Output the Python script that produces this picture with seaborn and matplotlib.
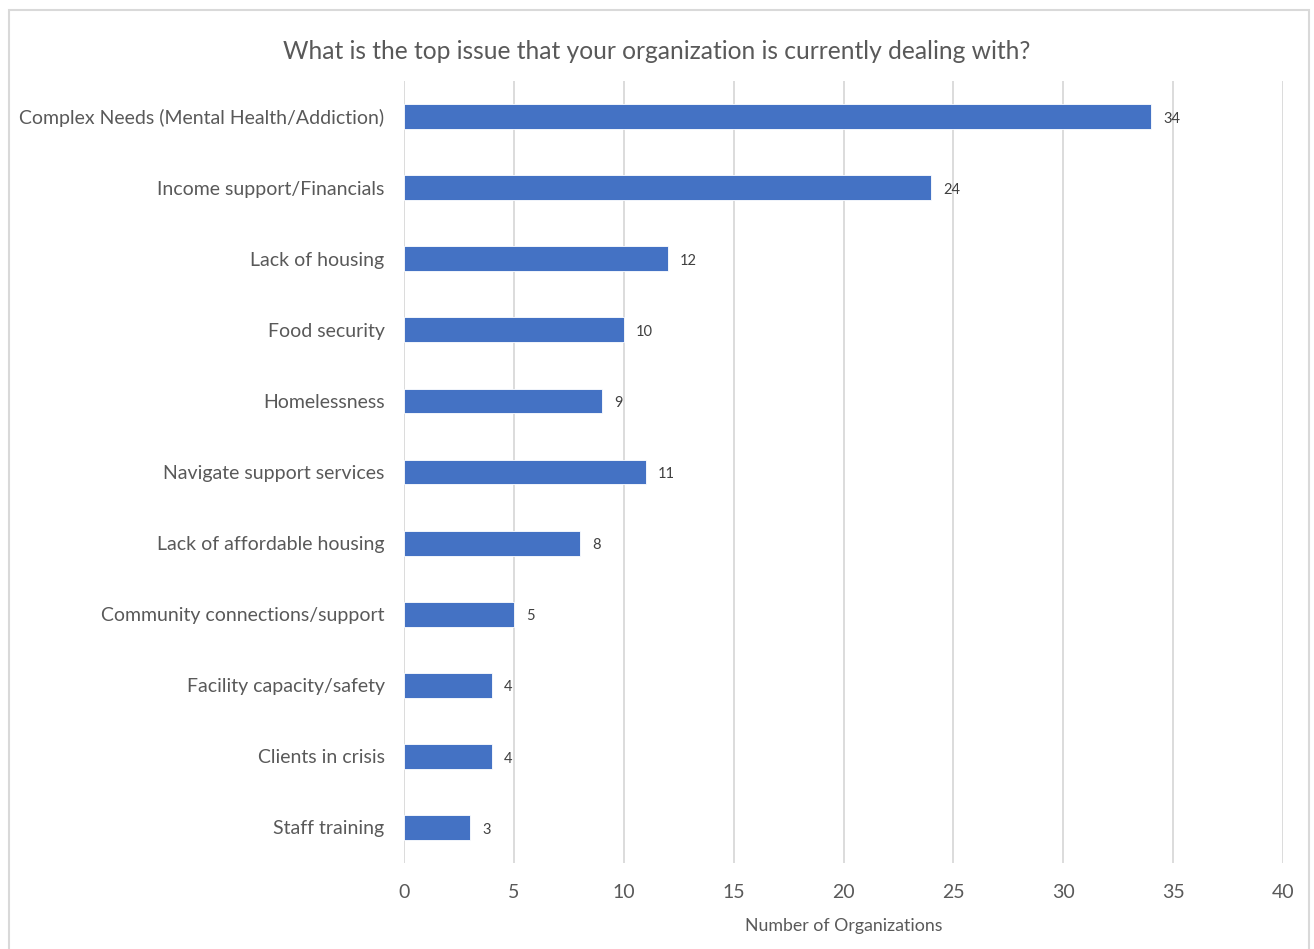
import matplotlib
matplotlib.use("Agg")
import matplotlib.pyplot as plt
import seaborn as sns
import pandas as pd
from matplotlib.patches import Rectangle

categories = [
    "Complex Needs (Mental Health/Addiction)",
    "Income support/Financials",
    "Lack of housing",
    "Food security",
    "Homelessness",
    "Navigate support services",
    "Lack of affordable housing",
    "Community connections/support",
    "Facility capacity/safety",
    "Clients in crisis",
    "Staff training",
]
counts = [34, 24, 12, 10, 9, 11, 8, 5, 4, 4, 3]
x_ticks = [0, 5, 10, 15, 20, 25, 30, 35, 40]

title = "What is the top issue that your organization is currently dealing with?"
x_label = "Number of Organizations"

df = pd.DataFrame({"issue": categories, "count": counts})

sns.set_theme(style="white")
plt.rcParams["font.family"] = ["Lato", "DejaVu Sans"]

text_color = "#595959"
bar_color = "#4472C4"

fig = plt.figure(figsize=(13.14, 9.49), dpi=100)
ax = fig.add_axes([0.3075, 0.0906, 0.669, 0.824])

sns.barplot(data=df, x="count", y="issue", order=categories,
            color=bar_color, saturation=1, width=0.35, ax=ax,
            edgecolor="white", linewidth=0.6)

ax.set_xlim(0, 40)
ax.set_ylim(len(categories) - 0.5, -0.5)
ax.set_xticks(x_ticks)
ax.set_xticklabels([str(t) for t in x_ticks])
ax.grid(axis="x", color="#D9D9D9", linewidth=1.3)
ax.set_axisbelow(True)
for s in ax.spines.values():
    s.set_visible(False)
ax.tick_params(axis="both", length=0)
ax.tick_params(axis="y", labelsize=14, labelcolor=text_color, pad=14)
ax.tick_params(axis="x", labelsize=14, labelcolor=text_color, pad=15)
ax.set_ylabel("")
ax.set_xlabel(x_label, fontsize=12.8, color=text_color, labelpad=12)

for i, v in enumerate(counts):
    ax.text(v + 0.55, i + 0.03, str(v), va="center", ha="left",
            fontsize=10.5, color="#404040")

fig.suptitle(title, fontsize=17.7, color=text_color, y=0.958)

fig.patches.append(Rectangle((0.0065, -0.05), 0.99, 1.0395,
                             transform=fig.transFigure, fill=False,
                             edgecolor="#D9D9D9", linewidth=1.5))

fig.savefig("out.png", dpi=100, facecolor="white")
